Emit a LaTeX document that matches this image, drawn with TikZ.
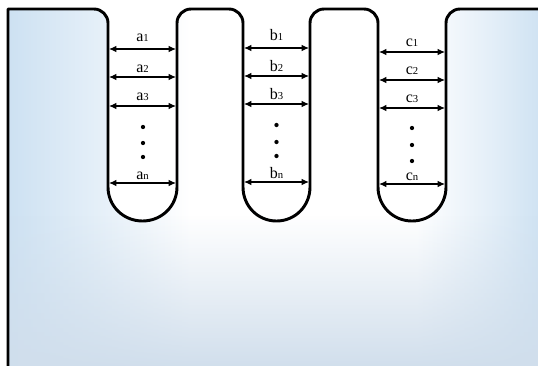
\documentclass[tikz,border=0pt]{standalone}
\usepackage{fontspec}
\setmainfont{Liberation Serif}
\usetikzlibrary{arrows.meta,fadings}
\definecolor{edgeblue}{RGB}{205,225,242}
\definecolor{botblue}{RGB}{208,222,236}
\pgfdeclarehorizontalshading{bodyshade}{100bp}{
  color(0bp)=(edgeblue); color(25bp)=(edgeblue); color(33bp)=(white!45!edgeblue); color(42bp)=(white);
  color(63bp)=(white); color(70bp)=(white!45!edgeblue); color(75bp)=(edgeblue); color(100bp)=(edgeblue)}
\newcommand{\sublbl}[2]{#1{\fontsize{8}{9}\selectfont #2}}
\begin{document}
\begin{tikzpicture}[x=0.75pt,y=-0.75pt,
  wall/.style={line width=2.2pt, line join=round},
  gap/.style={{Latex[length=5.5pt,width=4.8pt]}-{Latex[length=5.5pt,width=4.8pt]}, line width=0.8pt},
  lbl/.style={font=\fontsize{12}{13}\selectfont, inner sep=0pt, anchor=base},
  dotn/.style={circle, fill=black, inner sep=0pt, minimum size=3.2pt}]
\useasboundingbox (0,0) rectangle (538,365);
\begin{scope}
\clip (0,0) rectangle (538,365);
% body fill
\path[shading=bodyshade, shading angle=0]
 (8,370) -- (8,9) -- (94,9) .. controls (101.7,9) and (108,15.3) .. (108,23) -- (108,187)
 .. controls (108,206.2) and (123.5,221) .. (142.5,221) .. controls (161.5,221) and (177,206.2) .. (177,187)
 -- (177,23) .. controls (177,15.3) and (183.3,9) .. (191,9) -- (229,9) .. controls (236.7,9) and (243,15.3) .. (243,23)
 -- (243,187) .. controls (243,206.2) and (258,221) .. (276.5,221) .. controls (295,221) and (310,206.2) .. (310,187)
 -- (310,23) .. controls (310,15.3) and (316.3,9) .. (324,9) -- (364,9) .. controls (371.7,9) and (378,15.3) .. (378,23)
 -- (378,187) .. controls (378,206.2) and (393.2,221) .. (412,221) .. controls (430.8,221) and (446,206.2) .. (446,187)
 -- (446,23) .. controls (446,15.3) and (452.3,9) .. (460,9) -- (545,9) -- (545,370) -- cycle;
\fill[botblue, path fading=north] (8,215) rectangle (545,370);
% outline
\draw[wall]
 (8,370) -- (8,9) -- (94,9) .. controls (101.7,9) and (108,15.3) .. (108,23) -- (108,187)
 .. controls (108,206.2) and (123.5,221) .. (142.5,221) .. controls (161.5,221) and (177,206.2) .. (177,187)
 -- (177,23) .. controls (177,15.3) and (183.3,9) .. (191,9) -- (229,9) .. controls (236.7,9) and (243,15.3) .. (243,23)
 -- (243,187) .. controls (243,206.2) and (258,221) .. (276.5,221) .. controls (295,221) and (310,206.2) .. (310,187)
 -- (310,23) .. controls (310,15.3) and (316.3,9) .. (324,9) -- (364,9) .. controls (371.7,9) and (378,15.3) .. (378,23)
 -- (378,187) .. controls (378,206.2) and (393.2,221) .. (412,221) .. controls (430.8,221) and (446,206.2) .. (446,187)
 -- (446,23) .. controls (446,15.3) and (452.3,9) .. (460,9) -- (545,9);
\end{scope}
% groove a
\coordinate (a1l) at (109,49);  \coordinate (a1r) at (176,49);
\coordinate (a2l) at (109,77);  \coordinate (a2r) at (176,77);
\coordinate (a3l) at (109,106); \coordinate (a3r) at (176,106);
\coordinate (anl) at (109,183); \coordinate (anr) at (176,183);
\draw[gap] (a1l) -- (a1r); \draw[gap] (a2l) -- (a2r);
\draw[gap] (a3l) -- (a3r); \draw[gap] (anl) -- (anr);
\node[lbl] (la1) at (142.5,41.5) {\sublbl{a}{1}};
\node[lbl] (la2) at (142.5,72) {\sublbl{a}{2}};
\node[lbl] (la3) at (142.5,100) {\sublbl{a}{3}};
\node[lbl] (lan) at (142.5,179.5) {\sublbl{a}{n}};
\node[dotn] (da1) at (143,127) {};
\node[dotn] (da2) at (143,143) {};
\node[dotn] (da3) at (143,157) {};
% groove b
\coordinate (b1l) at (244,48);  \coordinate (b1r) at (309,48);
\coordinate (b2l) at (244,76);  \coordinate (b2r) at (309,76);
\coordinate (b3l) at (244,104); \coordinate (b3r) at (309,104);
\coordinate (bnl) at (244,182); \coordinate (bnr) at (309,182);
\draw[gap] (b1l) -- (b1r); \draw[gap] (b2l) -- (b2r);
\draw[gap] (b3l) -- (b3r); \draw[gap] (bnl) -- (bnr);
\node[lbl] (lb1) at (276.5,40.7) {\sublbl{b}{1}};
\node[lbl] (lb2) at (276.5,71) {\sublbl{b}{2}};
\node[lbl] (lb3) at (276.5,99) {\sublbl{b}{3}};
\node[lbl] (lbn) at (276.5,178) {\sublbl{b}{n}};
\node[dotn] (db1) at (276.5,125) {};
\node[dotn] (db2) at (276.5,142) {};
\node[dotn] (db3) at (276.5,156) {};
% groove c
\coordinate (c1l) at (379,52);  \coordinate (c1r) at (445,52);
\coordinate (c2l) at (379,80);  \coordinate (c2r) at (445,80);
\coordinate (c3l) at (379,108); \coordinate (c3r) at (445,108);
\coordinate (cnl) at (379,184); \coordinate (cnr) at (445,184);
\draw[gap] (c1l) -- (c1r); \draw[gap] (c2l) -- (c2r);
\draw[gap] (c3l) -- (c3r); \draw[gap] (cnl) -- (cnr);
\node[lbl] (lc1) at (412,46) {\sublbl{c}{1}};
\node[lbl] (lc2) at (412,74.5) {\sublbl{c}{2}};
\node[lbl] (lc3) at (412,102.5) {\sublbl{c}{3}};
\node[lbl] (lcn) at (412,180) {\sublbl{c}{n}};
\node[dotn] (dc1) at (412,128) {};
\node[dotn] (dc2) at (412,145) {};
\node[dotn] (dc3) at (412,161) {};
\end{tikzpicture}
\end{document}
